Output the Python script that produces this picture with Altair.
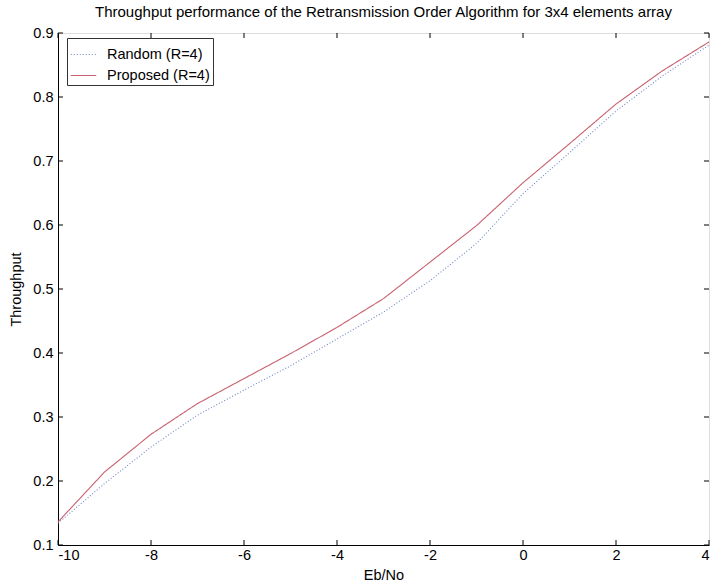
import altair as alt
import pandas as pd

ebno = [-10, -9, -8, -7, -6, -5, -4, -3, -2, -1, 0, 1, 2, 3, 4]
proposed = [0.136, 0.214, 0.273, 0.321, 0.360, 0.399, 0.440, 0.485, 0.542, 0.599, 0.666, 0.727, 0.789, 0.841, 0.886]
random_ = [0.134, 0.196, 0.253, 0.303, 0.342, 0.380, 0.422, 0.464, 0.513, 0.571, 0.649, 0.713, 0.778, 0.833, 0.881]
series_names = ["Random (R=4)", "Proposed (R=4)"]
series_colors = ["#6f86c8", "#c8606f"]
x_ticks = [-10, -8, -6, -4, -2, 0, 2, 4]
y_ticks = [0.1, 0.2, 0.3, 0.4, 0.5, 0.6, 0.7, 0.8, 0.9]

W, H = 651, 512
FONT = "Liberation Sans"
FS = 14.5

rows = []
for x, r, p in zip(ebno, random_, proposed):
    rows.append({"x": x, "y": r, "s": series_names[0]})
    rows.append({"x": x, "y": p, "s": series_names[1]})
df = pd.DataFrame(rows)

xs = alt.Scale(domain=[-10, 4], nice=False, zero=False)
ys = alt.Scale(domain=[0.1, 0.9], nice=False, zero=False)

lines = alt.Chart(df).mark_line(strokeWidth=1.1).encode(
    x=alt.X("x:Q", scale=xs, title="Eb/No",
            axis=alt.Axis(values=x_ticks, tickSize=0, labelPadding=3, titlePadding=7,
                          grid=False, domainColor="black", labelColor="black",
                          labelFontSize=FS, titleFontSize=FS, titleFontWeight="normal",
                          labelFont=FONT, titleFont=FONT,
                          labelExpr="'' + datum.value")),
    y=alt.Y("y:Q", scale=ys, title="Throughput",
            axis=alt.Axis(values=y_ticks, tickSize=0, labelPadding=5, titlePadding=9,
                          grid=False, domainColor="black", labelColor="black",
                          labelFontSize=FS, titleFontSize=FS, titleFontWeight="normal",
                          labelFont=FONT, titleFont=FONT, format=".1f")),
    color=alt.Color("s:N", scale=alt.Scale(domain=series_names, range=series_colors),
                    legend=alt.Legend(title=None, orient="none", legendX=9, legendY=5,
                                      labelFont=FONT, labelFontSize=FS, labelColor="black",
                                      symbolType="stroke", symbolSize=650, symbolStrokeWidth=1.2,
                                      strokeColor="#333", fillColor="white", padding=3,
                                      rowPadding=1, labelOffset=10)),
    strokeDash=alt.StrokeDash("s:N", scale=alt.Scale(domain=series_names, range=[[1, 2], [1, 0]]),
                              legend=None),
)

xt = pd.DataFrame({"x": x_ticks})
yt = pd.DataFrame({"y": y_ticks})

bottom_ticks = alt.Chart(xt).mark_rule(color="black", strokeWidth=1).encode(
    x=alt.X("x:Q", scale=xs), y=alt.value(H), y2=alt.value(H - 5))
top_ticks = alt.Chart(xt).mark_rule(color="black", strokeWidth=1).encode(
    x=alt.X("x:Q", scale=xs), y=alt.value(0), y2=alt.value(5))
left_ticks = alt.Chart(yt).mark_rule(color="black", strokeWidth=1).encode(
    y=alt.Y("y:Q", scale=ys), x=alt.value(0), x2=alt.value(5))
right_ticks = alt.Chart(yt).mark_rule(color="black", strokeWidth=1).encode(
    y=alt.Y("y:Q", scale=ys), x=alt.value(W), x2=alt.value(W - 5))

chart = alt.layer(lines, bottom_ticks, top_ticks, left_ticks, right_ticks).properties(
    width=W, height=H,
    title=alt.Title("Throughput performance of the Retransmission Order Algorithm for 3x4 elements array",
                    font=FONT, fontSize=15, fontWeight="normal", color="black", offset=5),
    autosize=alt.AutoSizeParams(type="none"),
    padding={"left": 58, "top": 33, "right": 4, "bottom": 43},
).configure_view(stroke="black", strokeWidth=1).configure(background="white")

chart.save("out.html", embed_options={"renderer": "svg", "actions": False})
